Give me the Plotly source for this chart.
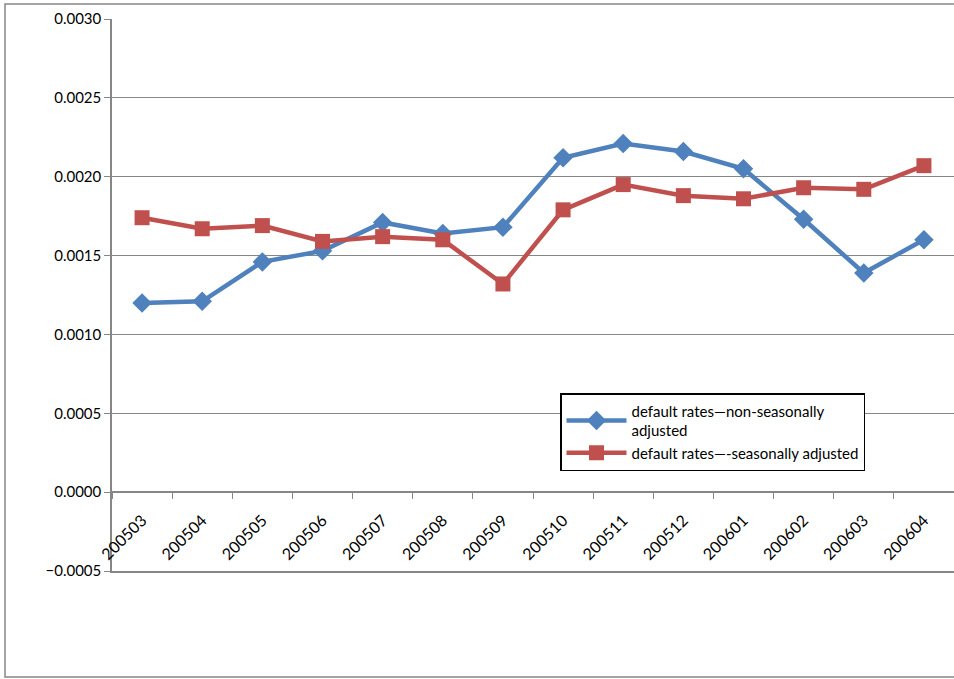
import plotly.graph_objects as go

months = ["200503","200504","200505","200506","200507","200508","200509","200510","200511","200512","200601","200602","200603","200604"]
non_sa = [0.00120,0.00121,0.00146,0.00153,0.00171,0.00164,0.00168,0.00212,0.00221,0.00216,0.00205,0.00173,0.00139,0.00160]
sa = [0.00174,0.00167,0.00169,0.00159,0.00162,0.00160,0.00132,0.00179,0.00195,0.00188,0.00186,0.00193,0.00192,0.00207]

L, T, W, H = 112, 19, 954, 679
PW, PH = W - L, 552
xr = [-0.5, len(months) - 0.5]
fig = go.Figure()
fig.add_trace(go.Scatter(x=months, y=non_sa, mode="lines+markers", name="default rates\u2014non-seasonally<br>adjusted",
    line=dict(color="#4F81BD", width=4.5), marker=dict(symbol="diamond", size=15, color="#4F81BD")))
fig.add_trace(go.Scatter(x=months, y=sa, mode="lines+markers", name="default rates\u2014-seasonally adjusted",
    line=dict(color="#C0504D", width=4.5), marker=dict(symbol="square", size=15, color="#C0504D")))
fig.add_trace(go.Scatter(x=months, y=[0]*len(months), xaxis="x2", mode="lines", line=dict(width=0), showlegend=False, hoverinfo="skip"))

fig.update_layout(
    width=W, height=H, margin=dict(l=L, r=0, t=T, b=H-T-PH, autoexpand=False),
    paper_bgcolor="white", plot_bgcolor="white",
    font=dict(family="Lato, Open Sans, sans-serif", size=15, color="black"),
    xaxis=dict(type="category", range=xr, showgrid=False, showticklabels=False, ticks="", showline=True,
               linecolor="#868686", linewidth=1.5, zeroline=False, automargin=False),
    xaxis2=dict(type="category", range=xr, overlaying="x", anchor="free", position=(571-492)/PH, showticklabels=True,
                tickangle=-45, tickfont=dict(size=16), automargin=False, ticklabelstandoff=12,
                ticks="outside", ticklen=6, tickcolor="#868686", tickson="boundaries", showline=True,
                linecolor="#868686", linewidth=1.5, showgrid=False, side="bottom"),
    yaxis=dict(range=[-0.0005, 0.0030], dtick=0.0005, tickformat=".4f", showgrid=True, gridcolor="#868686",
               gridwidth=1.2, showline=True, linecolor="#868686", linewidth=1.5, ticks="outside",
               ticklen=6, tickcolor="#868686", zeroline=False, automargin=False),
    legend=dict(x=(560-L)/PW, y=(571-393)/PH, xanchor="left", yanchor="top", bgcolor="white",
                bordercolor="black", borderwidth=1.5, font=dict(size=15), itemwidth=60),
    showlegend=True,
)
fig.add_shape(type="rect", xref="paper", yref="paper", x0=(5-L)/PW, x1=1.2, y0=(571-677)/PH, y1=(571-4)/PH,
              line=dict(color="#868686", width=1.5), layer="below")
fig.write_html("out.html", config={"displayModeBar": False},
    post_script="document.documentElement.style.overflow='hidden';document.body.style.margin='0';document.body.style.overflow='hidden';Plotly.relayout('{plot_id}',{width:954,height:679});")
